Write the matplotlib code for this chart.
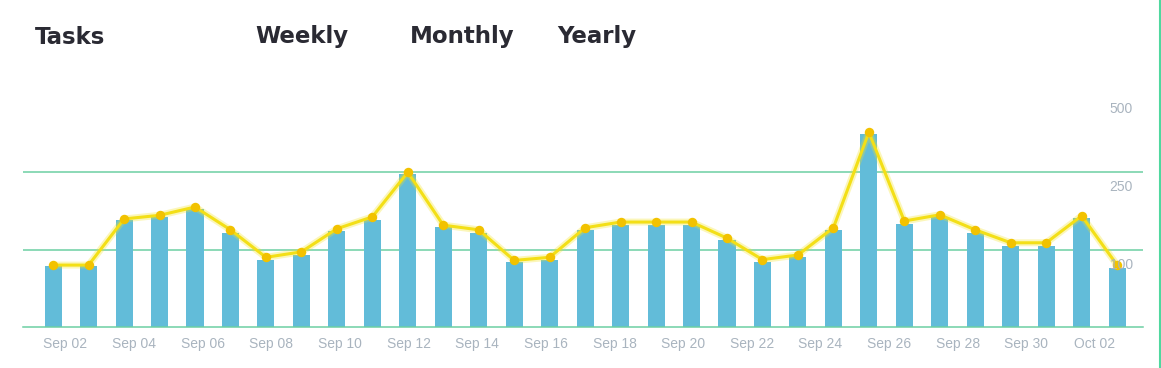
import matplotlib
matplotlib.use('Agg')
import matplotlib.pyplot as plt
import numpy as np
from matplotlib.lines import Line2D
from matplotlib.transforms import offset_copy

# 每天的数据 (Sep 02 - Oct 02)
days = ['Sep 02', 'Sep 03', 'Sep 04', 'Sep 05', 'Sep 06', 'Sep 07', 'Sep 08', 'Sep 09',
        'Sep 10', 'Sep 11', 'Sep 12', 'Sep 13', 'Sep 14', 'Sep 15', 'Sep 16', 'Sep 17',
        'Sep 18', 'Sep 19', 'Sep 20', 'Sep 21', 'Sep 22', 'Sep 23', 'Sep 24', 'Sep 25',
        'Sep 26', 'Sep 27', 'Sep 28', 'Sep 29', 'Sep 30', 'Oct 01', 'Oct 02']
bar_vals = [79, 79, 157, 163, 178, 132, 87, 93, 136, 157, 246, 144, 132, 84, 87, 138,
            148, 148, 148, 119, 84, 90, 138, 372, 149, 163, 132, 107, 107, 161, 76]
line_vals = [80, 80, 159, 166, 182, 138, 90, 97, 140, 163, 249, 147, 138, 86, 90, 142,
             153, 153, 153, 122, 87, 93, 142, 377, 155, 167, 138, 113, 113, 165, 80]
tick_labels = days[::2]
y_ticks = [100, 250, 500]
y_tick_labels = ['100', '250', '500']
tabs = ['Tasks', 'Weekly', 'Monthly', 'Yearly']

# y轴刻度是等距的, 但数值不是线性的
steps = [0, 100, 250, 500]
def fwd(v):
    return np.interp(v, steps, [0, 1, 2, 3])
def inv(t):
    return np.interp(t, [0, 1, 2, 3], steps)

fig = plt.figure(figsize=(11.61, 3.68), dpi=100)
ax = fig.add_axes([0.0198, 0.1106, 0.9647, 0.634])
ax.set_yscale('function', functions=(fwd, inv))

x = np.arange(len(days))
ax.bar(x, bar_vals, 0.48, color='#62bcd9', zorder=2)
ax.plot(x, line_vals, color='#f5e31c', linewidth=5, alpha=0.3, zorder=3, solid_capstyle='round')
ax.plot(x, line_vals, color='#f3df17', linewidth=2.2, zorder=4)
ax.plot(x, line_vals, 'o', color='#f2c200', markersize=6.8, markeredgewidth=0, zorder=5)

ax.set_xlim(-0.85, 30.73)
ax.set_ylim(0, 500)
ax.set_yticks(y_ticks[:-1])  # 500 那条线不画
ax.tick_params(axis='y', length=0, labelleft=False)
ax.yaxis.grid(True, color='#6ccfa3', linewidth=1.1)
ax.set_axisbelow(True)

# x轴标签与柱子不完全对齐
xt = 0.35 + np.arange(len(tick_labels)) * 1.935
ax.set_xticks(xt)
ax.set_xticklabels(tick_labels, fontsize=10, color='#a9b4bf', family='Liberation Sans')
ax.tick_params(axis='x', length=0, pad=7)

for s in ['top', 'left', 'right']:
    ax.spines[s].set_visible(False)
ax.spines['bottom'].set_color('#6ccfa3')
ax.spines['bottom'].set_linewidth(1.1)

# 右侧的y标签, 放在网格线下面
tr = offset_copy(ax.get_yaxis_transform(), fig=fig, x=-10, y=-15, units='dots')
for v, lab in zip(y_ticks, y_tick_labels):
    ax.text(1.0, v, lab, transform=tr, ha='right', va='center', fontsize=10,
            color='#a9b4bf', family='Liberation Sans', zorder=6)

tab_x = [35, 255, 410, 557]
for tx, t in zip(tab_x, tabs):
    fig.text(tx / 1161, 1 - 37 / 368, t, fontsize=16.5, fontweight='bold', color='#2a2a33',
             family='DejaVu Sans', va='center', ha='left')

fig.add_artist(Line2D([1159.5 / 1161] * 2, [0, 1], transform=fig.transFigure,
                      color='#4fd89f', linewidth=1.5))

fig.savefig('out.png', dpi=100)
